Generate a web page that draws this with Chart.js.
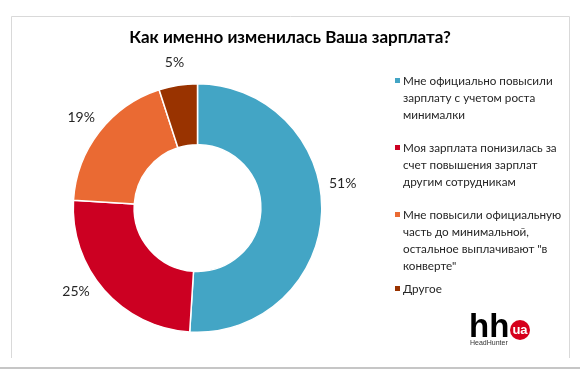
<!DOCTYPE html>
<html lang="ru">
<head>
<meta charset="utf-8">
<title>Как именно изменилась Ваша зарплата?</title>
<script src="https://cdn.jsdelivr.net/npm/chart.js@4"></script>
<style>
    html, body { margin: 0; padding: 0; background: #fff; }
    #chart { display: block; }
</style>
</head>
<body>
<canvas id="chart" width="580" height="369"></canvas>
<script>
// Data
const chartTitle = 'Как именно изменилась Ваша зарплата?';
const categories = [
    ['Мне официально повысили', 'зарплату с учетом роста', 'минималки'],
    ['Моя зарплата понизилась за', 'счет повышения зарплат', 'другим сотрудникам'],
    ['Мне повысили официальную', 'часть до минимальной,', 'остальное выплачивают "в', 'конверте"'],
    ['Другое']
];
const shares = [51, 25, 19, 5];
const sliceColors = ['#43A5C5', '#CC0022', '#EA6A33', '#993300'];

const FONT = "Lato, 'Open Sans', sans-serif";

(function() {
    'use strict';

    /**
     * Frame, title, legend, outside labels and logo
     */
    const decorPlugin = {
        id: 'decor',
        beforeDraw(chart) {
            const ctx = chart.ctx;
            ctx.save();
            ctx.fillStyle = '#fff';
            ctx.fillRect(0, 0, chart.width, chart.height);
            // frame
            ctx.strokeStyle = '#d9d9d9';
            ctx.lineWidth = 1;
            ctx.beginPath();
            ctx.moveTo(11.5, 358);
            ctx.lineTo(11.5, 16.5);
            ctx.lineTo(569.5, 16.5);
            ctx.lineTo(569.5, 358);
            ctx.stroke();
            ctx.strokeStyle = '#c6c6c6';
            ctx.lineWidth = 2;
            ctx.beginPath();
            ctx.moveTo(0, 368);
            ctx.lineTo(chart.width, 368);
            ctx.stroke();
            ctx.restore();
        },
        afterDraw(chart, args, opts) {
            const ctx = chart.ctx;
            ctx.save();

            // title
            ctx.fillStyle = '#000';
            ctx.font = 'bold 17px ' + FONT;
            ctx.textAlign = 'center';
            ctx.textBaseline = 'middle';
            ctx.fillText(chartTitle, 290, 38);

            // percentage labels outside the ring
            const meta = chart.getDatasetMeta(0);
            ctx.font = '14px ' + FONT;
            ctx.fillStyle = '#262626';
            meta.data.forEach((arc, i) => {
                const mid = (arc.startAngle + arc.endAngle) / 2 + (opts.nudge[i] || 0) * Math.PI / 180;
                const r = arc.outerRadius + opts.labelOffset;
                ctx.fillText(shares[i] + '%', arc.x + Math.cos(mid) * r, arc.y + Math.sin(mid) * r);
            });

            // legend
            ctx.textAlign = 'left';
            ctx.font = '11.7px ' + FONT;
            let y = opts.legendTop;
            categories.forEach((lines, i) => {
                ctx.fillStyle = sliceColors[i];
                ctx.fillRect(395, y - 3, 5, 5);
                ctx.fillStyle = '#262626';
                lines.forEach((line, j) => {
                    ctx.fillText(line, 403, y + j * opts.lineHeight);
                });
                y += lines.length * opts.lineHeight + opts.legendGaps[i];
            });

            // hh.ua logo
            ctx.fillStyle = '#000';
            ctx.font = "bold 33px 'Liberation Sans', Arial, sans-serif";
            ctx.textBaseline = 'alphabetic';
            ctx.fillText('hh', 469, 337);
            ctx.fillStyle = '#D6001C';
            ctx.beginPath();
            ctx.arc(520, 330, 10, 0, Math.PI * 2);
            ctx.fill();
            ctx.fillStyle = '#fff';
            ctx.font = "bold 13px 'Liberation Sans', Arial, sans-serif";
            ctx.textAlign = 'center';
            ctx.fillText('ua', 520, 334);
            ctx.fillStyle = '#333';
            ctx.font = "7px 'Liberation Sans', Arial, sans-serif";
            ctx.textAlign = 'left';
            ctx.fillText('HeadHunter', 470, 345);

            ctx.restore();
        }
    };

    new Chart(document.getElementById('chart'), {
        type: 'doughnut',
        data: {
            labels: categories.map(c => c.join(' ')),
            datasets: [{
                data: shares,
                backgroundColor: sliceColors,
                borderColor: '#ffffff',
                borderWidth: 1.5,
                hoverOffset: 0
            }]
        },
        options: {
            responsive: false,
            animation: false,
            cutout: '51%',
            layout: {
                padding: { left: 72, right: 257, top: 83, bottom: 36 }
            },
            plugins: {
                legend: { display: false },
                tooltip: { enabled: false },
                decor: {
                    labelOffset: 23,
                    nudge: [-11.5, 7, 0, 0],
                    legendTop: 81,
                    lineHeight: 17,
                    legendGaps: [16, 16, 6, 0]
                }
            }
        },
        plugins: [decorPlugin]
    });
})();
</script>
</body>
</html>
